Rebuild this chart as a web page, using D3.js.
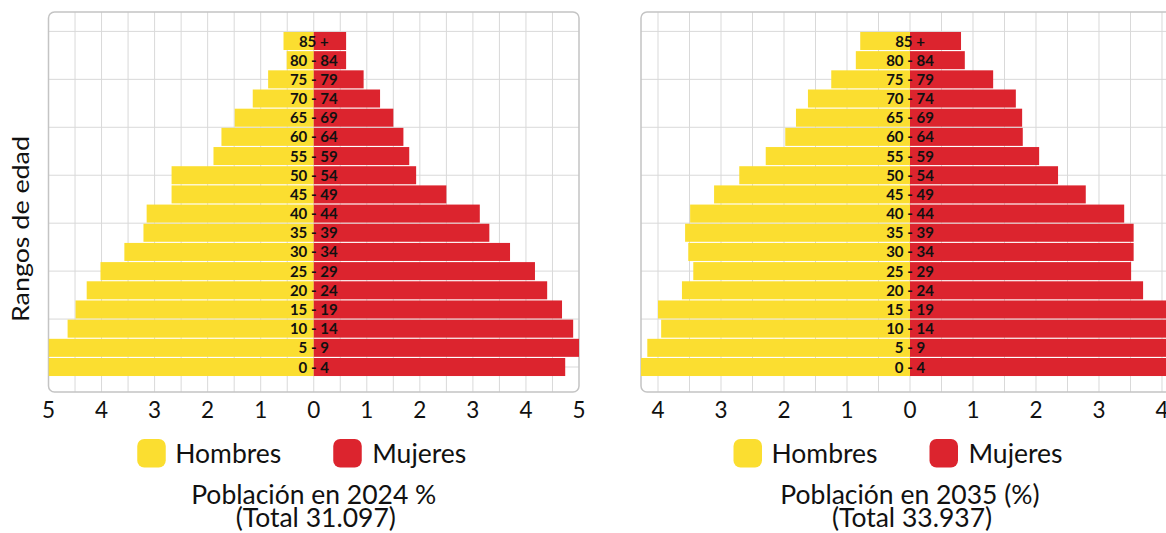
<!DOCTYPE html>
<html><head><meta charset="utf-8">
<script src="https://cdn.jsdelivr.net/npm/d3@7"></script>
<style>
body{margin:0;background:#fff;}
svg{display:block;font-family:Lato,'Open Sans',sans-serif;}
</style>
</head><body>
<svg id="chart" width="1166" height="533"></svg>
<script>
// ---- data ----
const ageGroups = ["0 - 4","5 - 9","10 - 14","15 - 19","20 - 24","25 - 29","30 - 34","35 - 39","40 - 44","45 - 49","50 - 54","55 - 59","60 - 64","65 - 69","70 - 74","75 - 79","80 - 84","85 +"];
const men2024   = [5.0, 5.0, 4.64, 4.49, 4.28, 4.02, 3.57, 3.21, 3.15, 2.68, 2.68, 1.89, 1.74, 1.49, 1.15, 0.86, 0.51, 0.57];
const women2024 = [4.74, 5.0, 4.89, 4.68, 4.40, 4.17, 3.70, 3.31, 3.13, 2.50, 1.93, 1.80, 1.69, 1.50, 1.25, 0.94, 0.61, 0.61];
const men2035   = [4.30, 4.17, 3.95, 4.00, 3.62, 3.44, 3.52, 3.57, 3.49, 3.11, 2.71, 2.29, 1.98, 1.81, 1.62, 1.25, 0.86, 0.79];
const women2035 = [4.40, 4.35, 4.20, 4.20, 3.70, 3.51, 3.55, 3.55, 3.40, 2.79, 2.35, 2.05, 1.79, 1.78, 1.68, 1.32, 0.87, 0.81];
const ticks2024 = [-5,-4,-3,-2,-1,0,1,2,3,4,5];
const ticks2035 = [-4,-3,-2,-1,0,1,2,3,4];
const seriesNames = ["Hombres","Mujeres"];
const title2024 = ["Población en 2024 %","(Total 31.097)"];
const title2035 = ["Población en 2035 (%)","(Total 33.937)"];
const yAxisTitle = "Rangos de edad";

// ---- styles ----
const COLORS = ["#FBDE30","#DC242E"];
const GRID = "#d9d9d9";
const BORDER = "#c4c4c4";

const svg = d3.select("#chart");

const y = d3.scaleBand().domain(ageGroups).range([376.6, 31.4]).paddingInner(0.06).paddingOuter(0.03);
const yCenter = c => y(c) + y.bandwidth()/2;
const yIdx = d3.scaleLinear().domain([0, ageGroups.length-1]).range([yCenter(ageGroups[0]), yCenter(ageGroups[ageGroups.length-1])]);

function drawChart(id, cfg){
  const g = svg.append("g");
  const x = d3.scaleLinear().domain(cfg.domain).range(cfg.range);
  const top = 12, bottom = 392;
  const left = cfg.range[0], right = cfg.range[1];

  g.append("clipPath").attr("id","clip"+id).append("rect")
    .attr("x",left).attr("y",top).attr("width",right-left).attr("height",bottom-top).attr("rx",6);

  // vertical gridlines every 0.5
  const vg = d3.range(Math.ceil(cfg.domain[0]*2)/2, cfg.domain[1]+0.001, 0.5)
     .filter(v => x(v) > left+1 && x(v) < right-1);
  g.selectAll(".vg").data(vg).join("line")
    .attr("x1",d=>x(d)).attr("x2",d=>x(d)).attr("y1",top).attr("y2",bottom)
    .attr("stroke",GRID).attr("stroke-width",1);
  // horizontal gridlines
  const hg = d3.range(0, ageGroups.length, 2.5);
  g.selectAll(".hg").data(hg).join("line")
    .attr("x1",left).attr("x2",right).attr("y1",d=>yIdx(d)).attr("y2",d=>yIdx(d))
    .attr("stroke",GRID).attr("stroke-width",1);

  // box
  g.append("rect").attr("x",left).attr("y",top).attr("width",right-left).attr("height",bottom-top)
    .attr("rx",6).attr("fill","none").attr("stroke",BORDER).attr("stroke-width",1.5);

  const bars = g.append("g").attr("clip-path","url(#clip"+id+")");
  bars.selectAll(".m").data(ageGroups).join("rect")
    .attr("x",(d,i)=>x(-cfg.men[i])).attr("width",(d,i)=>x(0)-x(-cfg.men[i]))
    .attr("y",d=>y(d)).attr("height",y.bandwidth()).attr("fill",COLORS[0]);
  bars.selectAll(".w").data(ageGroups).join("rect")
    .attr("x",x(0)).attr("width",(d,i)=>x(cfg.women[i])-x(0))
    .attr("y",d=>y(d)).attr("height",y.bandwidth()).attr("fill",COLORS[1]);

  // category labels
  g.selectAll(".lbl").data(ageGroups).join("text")
    .attr("x",x(0)).attr("y",d=>yCenter(d)).attr("dy","0.37em")
    .attr("text-anchor","middle").attr("font-weight","bold").attr("font-size",15)
    .attr("fill","#111").text(d=>d);

  // tick labels
  g.selectAll(".tk").data(cfg.ticks).join("text")
    .attr("x",d=>x(d)).attr("y",418).attr("text-anchor","middle")
    .attr("font-size",22.5).attr("fill","#111").text(d=>Math.abs(d));

  // legend
  const cx = x(0);
  const leg = [{dx:-176.5, tx:-138.5},{dx:19.5, tx:58.5}];
  seriesNames.forEach((s,i)=>{
    g.append("rect").attr("x",cx+leg[i].dx).attr("y",439).attr("width",28.5).attr("height",28.5)
      .attr("rx",7).attr("fill",COLORS[i]);
    g.append("text").attr("x",cx+leg[i].tx).attr("y",463).attr("font-size",26.5)
      .attr("fill","#111").text(s);
  });
  // title
  cfg.title.forEach((t,i)=>{
    g.append("text").attr("x",cx+(i?2:0)).attr("y",i?527:504).attr("text-anchor","middle")
      .attr("font-size",26.5).attr("fill","#111").text(t);
  });
}

drawChart("a",{domain:[-5,5], range:[48.5,579], ticks:ticks2024, men:men2024, women:women2024, title:title2024});
drawChart("b",{domain:[-4.27,4.27], range:[641,1179], ticks:ticks2035, men:men2035, women:women2035, title:title2035});

svg.append("text").attr("transform","translate(29,229) rotate(-90)")
  .attr("text-anchor","middle").attr("font-size",24).attr("fill","#111")
  .attr("textLength",186).attr("lengthAdjust","spacingAndGlyphs")
  .text(yAxisTitle);
</script>
</body></html>
